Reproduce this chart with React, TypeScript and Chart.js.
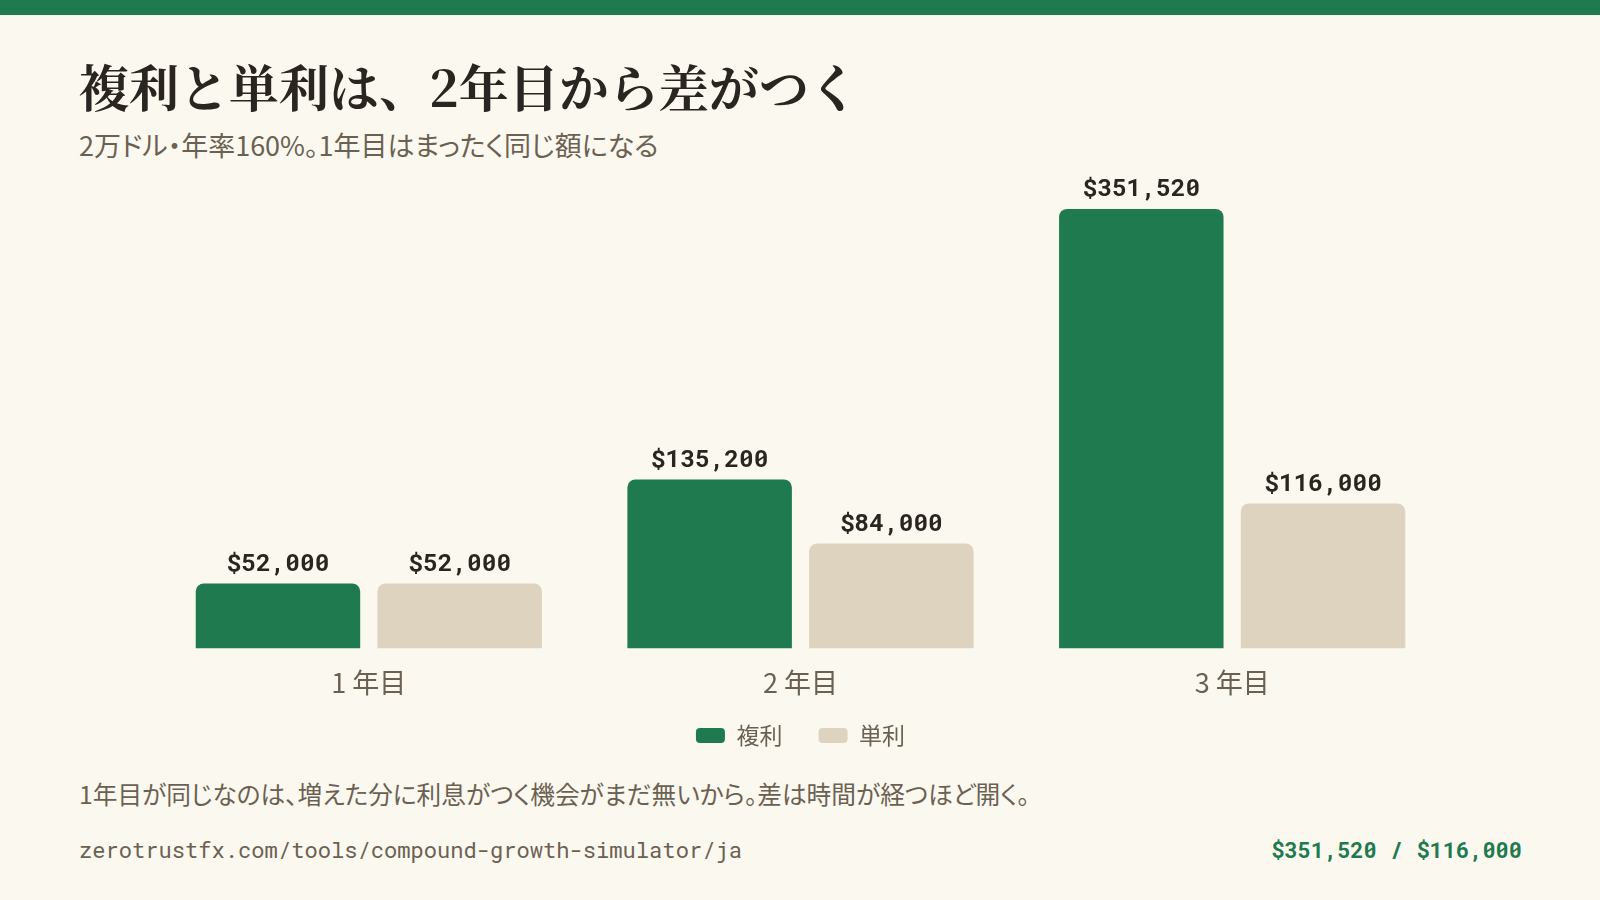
import React, { useRef, useEffect } from "react";
import { Chart, registerables } from "chart.js";

Chart.register(...registerables);

const categories = ["1 年目", "2 年目", "3 年目"];
const seriesNames = ["複利", "単利"];
const compoundValues = [52000, 135200, 351520];
const simpleValues = [52000, 84000, 116000];

const GREEN = "#1f7a4f";
const BEIGE = "#ddd3bf";
const BG = "#fbf8ef";
const INK = "#2a2520";
const MUTED = "#6b6152";
const SANS = "'Noto Sans CJK JP', 'Noto Sans', sans-serif";
const MONO = "'Roboto Mono', 'DejaVu Sans Mono', 'Liberation Mono', monospace";

const fmt = (v: number) => "$" + v.toLocaleString("en-US");

const valueLabels = {
  id: "valueLabels",
  afterDatasetsDraw(chart: Chart) {
    const { ctx } = chart;
    ctx.save();
    ctx.font = `700 24.5px ${MONO}`;
    ctx.fillStyle = INK;
    ctx.textAlign = "center";
    ctx.textBaseline = "middle";
    chart.data.datasets.forEach((ds, i) => {
      chart.getDatasetMeta(i).data.forEach((bar, j) => {
        ctx.fillText(fmt(ds.data[j] as number), bar.x, bar.y - 20);
      });
    });
    ctx.restore();
  },
};

const GrowthChart = () => {
  const chartRef = useRef<HTMLCanvasElement>(null);

  useEffect(() => {
    if (!chartRef.current) return;
    const chart = new Chart(chartRef.current, {
      type: "bar",
      data: {
        labels: categories,
        datasets: [
          {
            label: seriesNames[0],
            data: compoundValues,
            backgroundColor: GREEN,
            borderRadius: 8,
            borderSkipped: "bottom",
          },
          {
            label: seriesNames[1],
            data: simpleValues,
            backgroundColor: BEIGE,
            borderRadius: 8,
            borderSkipped: "bottom",
          },
        ],
      },
      options: {
        animation: false,
        responsive: true,
        maintainAspectRatio: false,
        layout: { padding: { left: 153, right: 152, top: 49, bottom: 3 } },
        datasets: {
          bar: { categoryPercentage: 0.842, barPercentage: 0.905 },
        },
        plugins: {
          tooltip: { enabled: false },
          legend: {
            position: "bottom",
            labels: {
              boxWidth: 29,
              boxHeight: 15,
              useBorderRadius: true,
              borderRadius: 4,
              padding: 8,
              color: MUTED,
              font: { family: SANS, size: 23 },
              // widen the gap between the two legend entries
              generateLabels: (chart: Chart) => {
                const items = Chart.defaults.plugins.legend.labels.generateLabels(chart);
                return items.map((it, i) =>
                  i < items.length - 1 ? { ...it, text: it.text + "\u3000 " } : it
                );
              },
            },
          },
        },
        scales: {
          x: {
            grid: { display: false, drawTicks: false },
            border: { display: false },
            ticks: {
              padding: 27,
              color: MUTED,
              font: { family: SANS, size: 27, lineHeight: 0.5 },
            },
          },
          y: {
            display: false,
            min: 0,
            max: Math.max(...compoundValues),
          },
        },
      },
      plugins: [valueLabels],
    });
    return () => chart.destroy();
  }, []);

  return (
    <div style={{ position: "absolute", left: 0, top: 160, width: 1600, height: 600 }}>
      <canvas ref={chartRef} />
    </div>
  );
};

const App = () => {
  const lastCompound = compoundValues[compoundValues.length - 1];
  const lastSimple = simpleValues[simpleValues.length - 1];
  return (
    <div
      style={{
        position: "fixed",
        left: 0,
        top: 0,
        width: 1600,
        height: 900,
        background: BG,
        overflow: "hidden",
        fontFamily: SANS,
      }}
    >
      <div style={{ position: "absolute", left: 0, top: 0, width: 1600, height: 15, background: GREEN }} />
      <div
        style={{
          position: "absolute",
          left: 79,
          top: 60,
          fontFamily: "'Noto Serif CJK JP', 'Noto Sans CJK JP', serif",
          fontWeight: 700,
          fontSize: 50,
          lineHeight: "50px",
          color: INK,
          whiteSpace: "nowrap",
        }}
      >
        複利と単利は、2年目から差がつく
      </div>
      <div
        style={{
          position: "absolute",
          left: 79,
          top: 132,
          fontSize: 27,
          lineHeight: "26px",
          color: MUTED,
          fontFeatureSettings: "'palt'",
          whiteSpace: "nowrap",
        }}
      >
        2万ドル・年率160%。1年目はまったく同じ額になる
      </div>
      <GrowthChart />
      <div
        style={{
          position: "absolute",
          left: 79,
          top: 781,
          fontSize: 24.7,
          lineHeight: "24px",
          color: MUTED,
          fontFeatureSettings: "'palt'",
          whiteSpace: "nowrap",
        }}
      >
        1年目が同じなのは、増えた分に利息がつく機会がまだ無いから。差は時間が経つほど開く。
      </div>
      <div
        style={{
          position: "absolute",
          left: 79,
          top: 838,
          fontFamily: MONO,
          fontSize: 22.1,
          lineHeight: "24px",
          color: MUTED,
          whiteSpace: "nowrap",
        }}
      >
        zerotrustfx.com/tools/compound-growth-simulator/ja
      </div>
      <div
        style={{
          position: "absolute",
          right: 78,
          top: 838,
          fontFamily: MONO,
          fontWeight: 700,
          fontSize: 22,
          lineHeight: "24px",
          color: GREEN,
          whiteSpace: "nowrap",
        }}
      >
        {fmt(lastCompound)} / {fmt(lastSimple)}
      </div>
    </div>
  );
};

export default App;
